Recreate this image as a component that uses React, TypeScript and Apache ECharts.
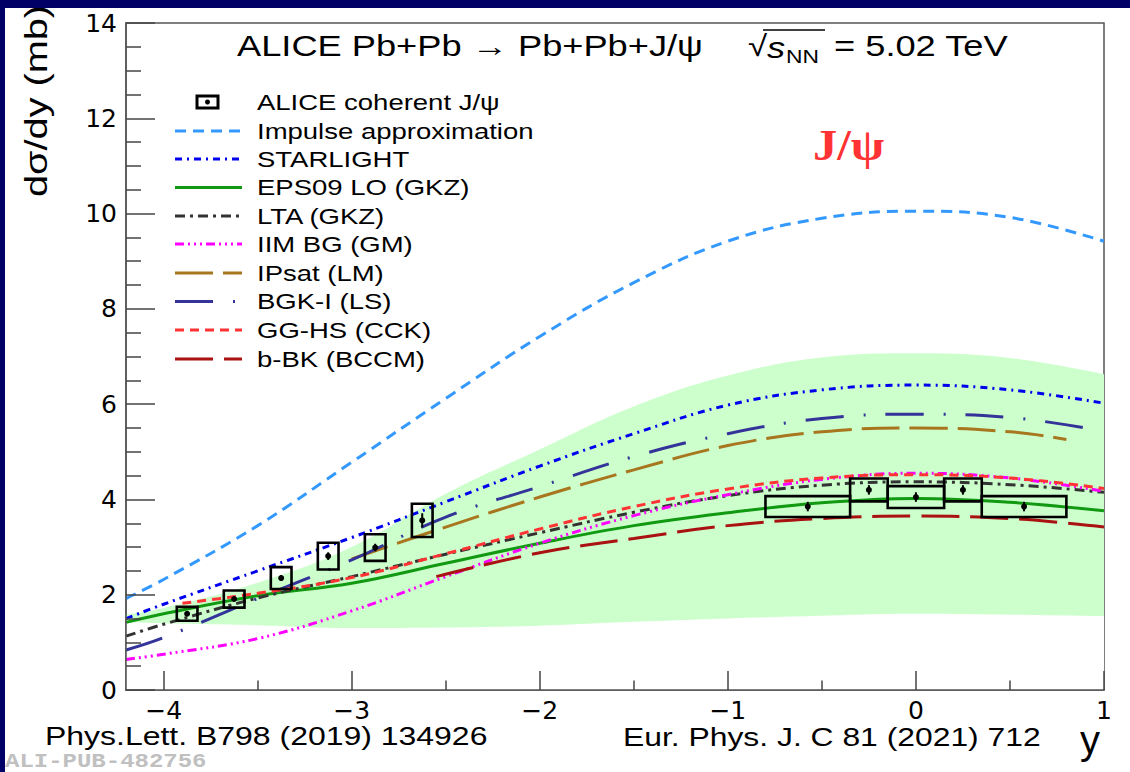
import React, { useEffect, useRef } from "react";
import * as echarts from "echarts";

// ---------------- data ----------------
const X_MAJOR = [-4, -3, -2, -1, 0, 1];
const X_MINOR = [-3.5, -2.5, -1.5, -0.5, 0.5];

const RAP = [-4.2, -4, -3.5, -3, -2.5, -2, -1.5, -1, -0.5, 0, 0.5, 1];

const IMPULSE_Y = [1.92, 2.32, 3.45, 4.78, 6.12, 7.42, 8.55, 9.42, 9.9, 10.05, 9.92, 9.42];
const STARLIGHT_Y = [1.5, 1.8, 2.5, 3.2, 3.95, 4.7, 5.38, 5.98, 6.3, 6.4, 6.3, 6.02];
const EPS09_Y = [1.42, 1.6, 1.98, 2.24, 2.66, 3.08, 3.45, 3.72, 3.93, 4.02, 3.94, 3.76];
const LTA_Y = [1.13, 1.38, 1.93, 2.38, 2.85, 3.3, 3.73, 4.08, 4.3, 4.37, 4.31, 4.15];
const IIM_Y = [0.64, 0.75, 1.08, 1.66, 2.38, 3.08, 3.66, 4.1, 4.42, 4.55, 4.45, 4.17];

const BGK_X = [-4.2, -4, -3.5, -3, -2.5, -2, -1.5, -1, -0.5, 0, 0.5, 0.9];
const BGK_Y = [0.84, 1.1, 1.92, 2.73, 3.63, 4.27, 4.9, 5.38, 5.7, 5.79, 5.72, 5.5];

const IPSAT_X = [-3, -2.5, -2, -1.5, -1, -0.5, 0, 0.5, 0.8];
const IPSAT_Y = [2.75, 3.42, 4.05, 4.62, 5.13, 5.42, 5.5, 5.42, 5.26];

const GGHS_X = [-3.9, -3.5, -3, -2.5, -2, -1.5, -1, -0.5, 0, 0.5, 1];
const GGHS_Y = [1.82, 2.03, 2.36, 2.86, 3.38, 3.85, 4.22, 4.45, 4.52, 4.45, 4.23];

const BBK_X = [-2.55, -2, -1.5, -1, -0.5, 0, 0.5, 1];
const BBK_Y = [2.38, 2.88, 3.18, 3.45, 3.6, 3.65, 3.6, 3.42];

const BAND_LO = [1.42, 1.4, 1.36, 1.3, 1.31, 1.35, 1.43, 1.5, 1.56, 1.6, 1.58, 1.55];
const BAND_HI = [1.58, 1.72, 2.25, 3.0, 4.12, 5.05, 5.95, 6.6, 6.98, 7.07, 6.97, 6.63];

// ALICE data: rapidity, value, systematic half-height, stat error, half-width of box
const FWD_Y = [-3.875, -3.625, -3.375, -3.125, -2.875, -2.625];
const FWD_V = [1.6, 1.91, 2.35, 2.81, 2.99, 3.56];
const FWD_SYS = [0.145, 0.18, 0.23, 0.28, 0.28, 0.35];
const FWD_STAT = [0.05, 0.05, 0.06, 0.08, 0.08, 0.15];
const FWD_HW = [0.055, 0.055, 0.055, 0.055, 0.055, 0.055];

const MID_Y = [-0.575, -0.25, 0, 0.25, 0.575];
const MID_V = [3.85, 4.2, 4.05, 4.2, 3.85];
const MID_SYS = [0.22, 0.24, 0.23, 0.24, 0.22];
const MID_STAT = [0.1, 0.1, 0.1, 0.1, 0.1];
const MID_HW = [0.225, 0.1, 0.15, 0.1, 0.225];

const NAVY = "#000066";
const SANS = "Liberation Sans, Arial, sans-serif";

type Model = { name: string; color: string; dash: number[] | "solid"; width: number; x: number[]; y: number[] };

const MODELS: Model[] = [
  { name: "Impulse approximation", color: "#3399ff", dash: [11, 7], width: 3, x: RAP, y: IMPULSE_Y },
  { name: "STARLIGHT", color: "#0000ee", dash: [7, 5, 2, 5], width: 3, x: RAP, y: STARLIGHT_Y },
  { name: "EPS09 LO (GKZ)", color: "#119911", dash: "solid", width: 3, x: RAP, y: EPS09_Y },
  { name: "LTA (GKZ)", color: "#333333", dash: [10, 5, 3, 5], width: 3, x: RAP, y: LTA_Y },
  { name: "IIM BG (GM)", color: "#ff00ff", dash: [9, 4, 2, 4, 2, 4, 2, 4], width: 3, x: RAP, y: IIM_Y },
  { name: "IPsat (LM)", color: "#a8761e", dash: [38, 10], width: 3, x: IPSAT_X, y: IPSAT_Y },
  { name: "BGK-I (LS)", color: "#333399", dash: [38, 20, 2, 20], width: 3, x: BGK_X, y: BGK_Y },
  { name: "GG-HS (CCK)", color: "#ff3333", dash: [9, 6], width: 3, x: GGHS_X, y: GGHS_Y },
  { name: "b-BK (BCCM)", color: "#aa1111", dash: [38, 11], width: 3, x: BBK_X, y: BBK_Y },
];

const LEGEND_ROWS = [102, 131, 159, 187.5, 216, 244, 273, 301.5, 330, 359];

const fmtX = (v: number) => (v < 0 ? "\u2212" + Math.abs(v) : String(v));

function buildOption() {
  const pair = (xs: number[], ys: number[]) => xs.map((x, i) => [x, ys[i]]);

  // band: green area under upper edge, then white area under lower edge
  const bandUpper = {
    type: "line",
    name: "EPS09 band upper",
    data: pair(RAP, BAND_HI),
    smooth: 0.4,
    symbol: "none",
    lineStyle: { width: 0, opacity: 0 },
    areaStyle: { color: "#ccffcc", opacity: 1, origin: "start" },
    silent: true,
    z: 1,
  };
  const bandLower = {
    type: "line",
    name: "EPS09 band lower",
    data: pair(RAP, BAND_LO),
    smooth: 0.4,
    symbol: "none",
    lineStyle: { width: 0, opacity: 0 },
    areaStyle: { color: "#ffffff", opacity: 1, origin: "start" },
    silent: true,
    z: 1,
  };

  const curves = MODELS.map((m) => ({
    type: "line",
    name: m.name,
    data: pair(m.x, m.y),
    smooth: 0.4,
    symbol: "none",
    lineStyle: { color: m.color, width: m.width, type: m.dash },
    z: 3,
  }));

  const pts = [
    ...FWD_Y.map((y, i) => [y, FWD_V[i], FWD_SYS[i], FWD_STAT[i], FWD_HW[i]]),
    ...MID_Y.map((y, i) => [y, MID_V[i], MID_SYS[i], MID_STAT[i], MID_HW[i]]),
  ];

  const dataSeries = {
    type: "custom",
    name: "ALICE coherent J/\u03c8",
    data: pts,
    encode: { x: 0, y: 1 },
    z: 5,
    renderItem: (params: any, api: any) => {
      const x = api.value(0);
      const v = api.value(1);
      const sys = api.value(2);
      const st = api.value(3);
      const hw = api.value(4);
      const p0 = api.coord([x - hw, v + sys]);
      const p1 = api.coord([x + hw, v - sys]);
      const c = api.coord([x, v]);
      const e0 = api.coord([x, v + st]);
      const e1 = api.coord([x, v - st]);
      return {
        type: "group",
        children: [
          {
            type: "rect",
            shape: { x: p0[0], y: p0[1], width: p1[0] - p0[0], height: p1[1] - p0[1] },
            style: { fill: "none", stroke: "#000", lineWidth: 2.6 },
          },
          {
            type: "line",
            shape: { x1: e0[0], y1: e0[1], x2: e1[0], y2: e1[1] },
            style: { stroke: "#000", lineWidth: 2 },
          },
          { type: "circle", shape: { cx: c[0], cy: c[1], r: 3 }, style: { fill: "#000" } },
        ],
      };
    },
  };

  const graphics: any[] = [];
  // navy frame strips
  graphics.push({ type: "rect", shape: { x: 0, y: 0, width: 1130, height: 8 }, style: { fill: NAVY }, z: 100 });
  graphics.push({ type: "rect", shape: { x: 0, y: 0, width: 5, height: 772 }, style: { fill: NAVY }, z: 100 });

  const txt = (text: string, x: number, y: number, size: number, opts: any = {}) => ({
    type: "text",
    x,
    y,
    scaleX: opts.scaleX ?? 1,
    rotation: opts.rotation ?? 0,
    z: 50,
    style: {
      text,
      fill: opts.fill ?? "#000",
      font: `${opts.style ?? "normal"} ${opts.weight ?? "normal"} ${size}px ${opts.family ?? SANS}`,
      textAlign: opts.align ?? "left",
      textVerticalAlign: opts.valign ?? "middle",
      align: opts.align ?? "left",
      verticalAlign: opts.valign ?? "middle",
    },
  });

  // title
  graphics.push(txt("ALICE Pb+Pb \u2192 Pb+Pb+J/\u03c8", 237, 46, 29, { scaleX: 1.25 }));
  graphics.push(txt("\u221a", 748, 46, 29, { scaleX: 1.2 }));
  graphics.push({ type: "line", shape: { x1: 763, y1: 30, x2: 825, y2: 30 }, style: { stroke: "#000", lineWidth: 1.5 }, z: 50 });
  graphics.push(txt("s", 767, 48, 29, { scaleX: 1.25, style: "italic" }));
  graphics.push(txt("NN", 786, 56, 19, { scaleX: 1.2 }));
  graphics.push(txt("= 5.02 TeV", 834, 46, 29, { scaleX: 1.25 }));

  // J/psi label
  graphics.push(txt("J/\u03c8", 813, 145, 45, { scaleX: 1.08, fill: "#ff3333", weight: "bold", family: "Liberation Serif, Times New Roman, serif" }));

  // legend
  graphics.push({ type: "rect", shape: { x: 197, y: 96, width: 21, height: 12 }, style: { fill: "none", stroke: "#000", lineWidth: 3 }, z: 50 });
  graphics.push({ type: "circle", shape: { cx: 207.5, cy: 102, r: 2.5 }, style: { fill: "#000" }, z: 50 });
  graphics.push(txt("ALICE coherent J/\u03c8", 257, LEGEND_ROWS[0], 22, { scaleX: 1.25 }));
  MODELS.forEach((m, i) => {
    const y = LEGEND_ROWS[i + 1];
    graphics.push({
      type: "line",
      shape: { x1: 175, y1: y, x2: 242, y2: y },
      style: { stroke: m.color, lineWidth: m.width, lineDash: m.dash === "solid" ? null : m.dash },
      z: 50,
    });
    graphics.push(txt(m.name, 257, y, 22, { scaleX: 1.25 }));
  });

  // axis titles
  graphics.push(txt("d\u03c3/dy (mb)", 36, 5, 32, { rotation: Math.PI / 2, align: "right", scaleX: 1.24 }));
  graphics.push(txt("y", 1090, 740, 40, { align: "center" }));

  // references
  graphics.push(txt("Phys.Lett. B798 (2019) 134926", 45, 736, 26, { scaleX: 1.23 }));
  graphics.push(txt("Eur. Phys. J. C 81 (2021) 712", 623, 737, 26, { scaleX: 1.225 }));
  graphics.push(txt("ALI-PUB-482756", 5, 762, 20, { scaleX: 1.2, fill: "#c0c0c0", weight: "bold", family: "Liberation Mono, Courier New, monospace" }));

  return {
    animation: false,
    backgroundColor: "#ffffff",
    grid: {
      left: 126,
      right: 26,
      top: 23,
      bottom: 82,
      show: true,
      borderColor: "#555",
      borderWidth: 1.5,
      backgroundColor: "transparent",
    },
    xAxis: [
      {
        type: "value",
        min: -4.2,
        max: 1,
        position: "bottom",
        z: 10,
        axisLine: { show: true, onZero: false, lineStyle: { color: "#555", width: 1.5 } },
        axisTick: { show: true, inside: true, length: 19, customValues: X_MAJOR, lineStyle: { color: "#444", width: 1.5 } },
        axisLabel: {
          customValues: X_MAJOR,
          formatter: fmtX,
          fontFamily: "DejaVu Sans",
          fontSize: 25,
          color: "#000",
          margin: 8,
        },
        splitLine: { show: false },
      },
      {
        type: "value",
        min: -4.2,
        max: 1,
        position: "bottom",
        z: 10,
        axisLine: { show: false, onZero: false },
        axisTick: { show: true, inside: true, length: 9.5, customValues: X_MINOR, lineStyle: { color: "#444", width: 1.5 } },
        axisLabel: { show: false },
        splitLine: { show: false },
      },
    ],
    yAxis: {
      type: "value",
      min: 0,
      max: 14,
      interval: 2,
      z: 10,
      axisLine: { show: true, onZero: false, lineStyle: { color: "#555", width: 1.5 } },
      axisTick: { show: true, inside: true, length: 29, lineStyle: { color: "#444", width: 1.5 } },
      minorTick: { show: true, splitNumber: 4, length: 15, lineStyle: { color: "#444", width: 1.5 } },
      axisLabel: { fontFamily: "DejaVu Sans", fontSize: 25, color: "#000", margin: 9 },
      splitLine: { show: false },
    },
    graphic: { elements: graphics },
    series: [bandUpper, bandLower, ...curves, dataSeries],
  };
}

export default function App() {
  const ref = useRef<HTMLDivElement>(null);
  useEffect(() => {
    document.body.style.margin = "0";
    if (!ref.current) return;
    const chart = echarts.init(ref.current, null, { renderer: "svg" });
    chart.setOption(buildOption() as any);
    return () => chart.dispose();
  }, []);
  return <div ref={ref} style={{ width: 1130, height: 772 }} />;
}
